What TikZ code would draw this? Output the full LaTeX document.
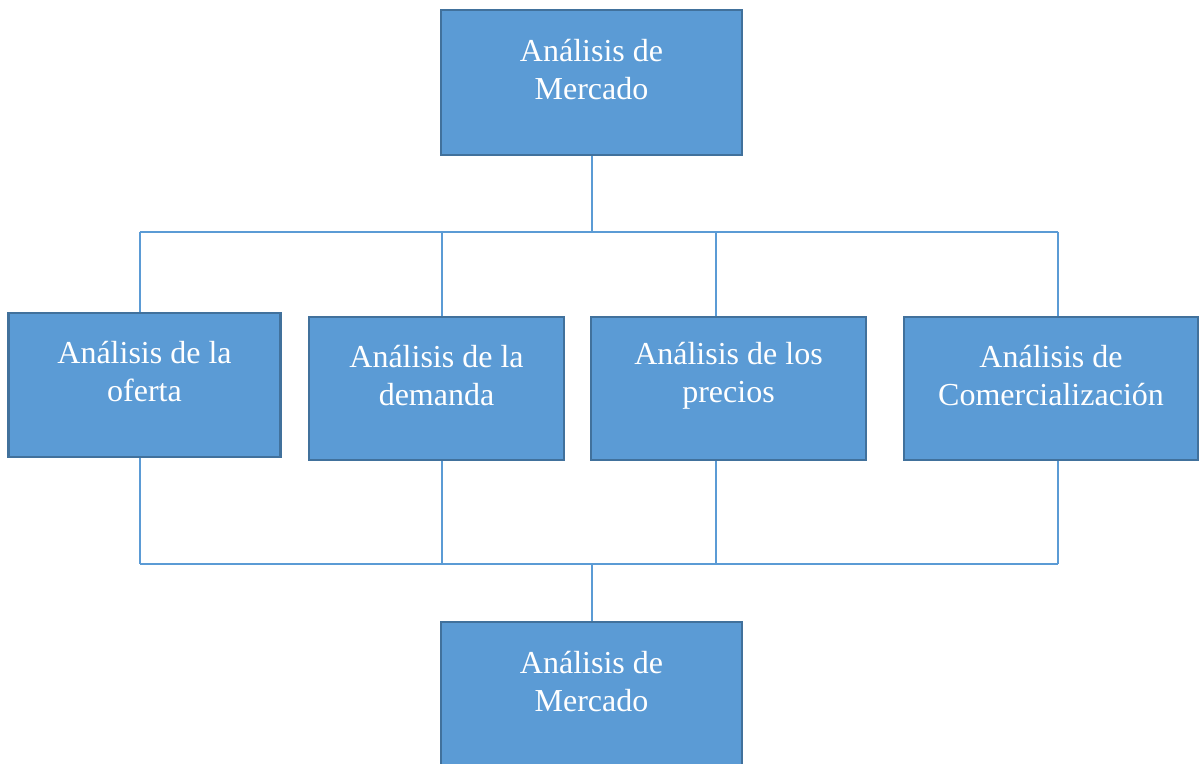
\documentclass[tikz,border=0pt]{standalone}
\usepackage{fontspec}
\setmainfont{Liberation Serif}
\definecolor{cajafondo}{HTML}{5B9BD5}
\definecolor{cajaborde}{HTML}{41719C}
\definecolor{conectorcolor}{HTML}{5B9BD5}
\tikzset{
  caja/.style={draw=cajaborde, line width=2.8pt, fill=cajafondo, inner sep=0pt},
  texto/.style={text=white, align=center, font=\fontsize{32}{38}\selectfont},
  conector/.style={conectorcolor, line width=2pt},
}
\begin{document}
\begin{tikzpicture}[x=1pt,y=-1pt]
\useasboundingbox (0,0) rectangle (1199,763);
\def\subir{13};
%\draw[help lines,step=50] (0,0) grid (1199,763);
\coordinate (ya) at (0,231.5);
\coordinate (yb) at (0,563.5);
\coordinate (x1) at (139.5,0);
\coordinate (x2) at (441.5,0);
\coordinate (x3) at (715.5,0);
\coordinate (x4) at (1057.5,0);

% cajas
\node[caja, minimum width=301pt, minimum height=145pt] (mercado) at (591.5,82.5) {};
\node[caja, minimum width=301pt, minimum height=145pt] (mercadob) at (591.5,694.5) {};
\foreach \nombre/\cx/\cy/\ancho/\alto in {oferta/144.5/385/272/144, demanda/436.5/388.5/255/143,
    precios/728.5/388.5/275/143, comercial/1051/388.5/294/143}{
  \node[caja, minimum width=\ancho pt, minimum height=\alto pt] (\nombre) at (\cx,\cy) {};
}

% textos
\foreach \nombre/\txt in {mercado/{Análisis de\\Mercado}, mercadob/{Análisis de\\Mercado},
    oferta/{Análisis de la\\oferta}, demanda/{Análisis de la\\demanda},
    precios/{Análisis de los\\precios}, comercial/{Análisis de\\Comercialización}}{
  \node[texto] (\nombre-t) at ([yshift=\subir pt]\nombre.center) {\txt};
}

% conectores
\draw[conector] (mercado.south) -- (mercado.south |- ya);
\draw[conector] (x1 |- ya) -- (x4 |- ya);
\draw[conector] (x1 |- yb) -- (x4 |- yb);
\draw[conector] (mercadob.north |- yb) -- (mercadob.north);
\foreach \i/\nombre in {1/oferta, 2/demanda, 3/precios, 4/comercial}{
  \draw[conector] (x\i |- ya) -- (x\i |- \nombre.north);
  \draw[conector] (x\i |- \nombre.south) -- (x\i |- yb);
}
\end{tikzpicture}
\end{document}
